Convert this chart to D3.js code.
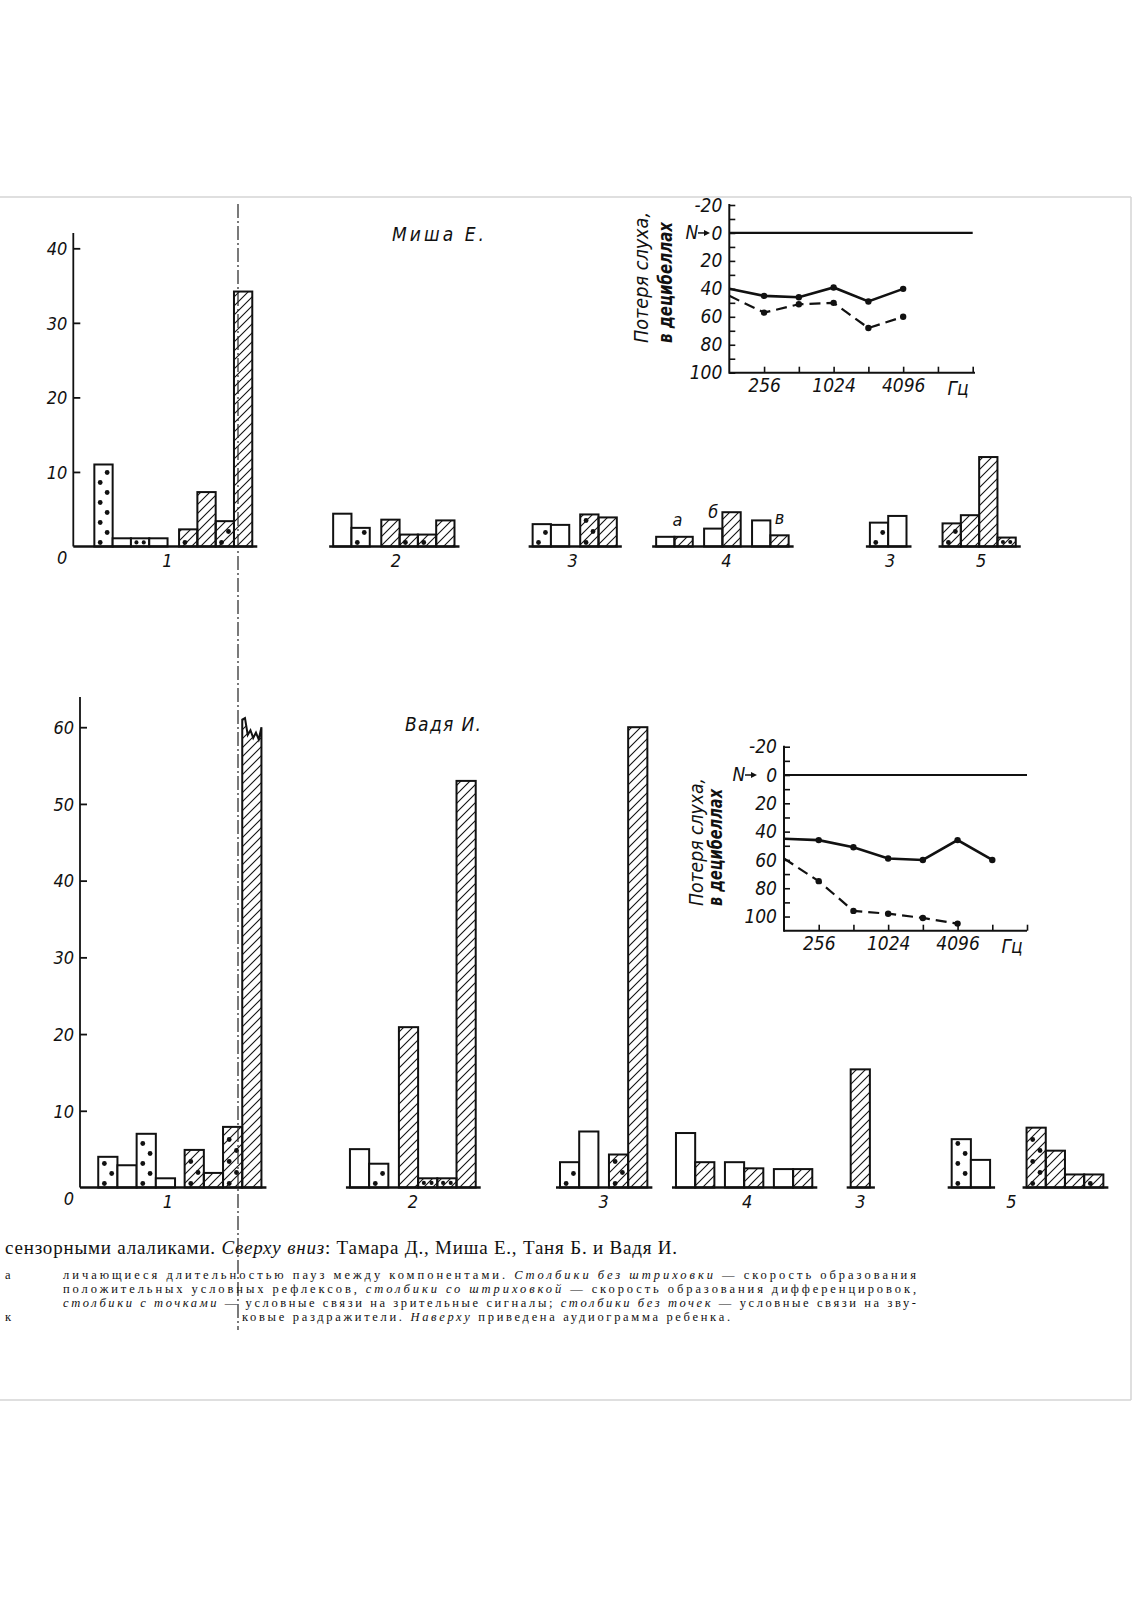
<!DOCTYPE html>
<html><head><meta charset="utf-8">
<script src="https://cdn.jsdelivr.net/npm/d3@7"></script>
<style>
body{margin:0;background:#fff}
svg{display:block}
.tf{font-family:"DejaVu Sans Condensed","Liberation Sans Narrow","DejaVu Sans",sans-serif;font-stretch:condensed;font-style:oblique;fill:#111}
.cap{font-family:"Liberation Serif","DejaVu Serif",serif;fill:#111}
</style>
</head><body>
<svg id="c" width="1132" height="1600"></svg>
<script>
// ================= DATA =================
const groupLabels = ["1","2","3","4","3","5"];

// Миша Е. — bar values by group / subgroup
const mishaValues = [
  [[11,1.1,1.1,1.1],[2.3,7.3,3.4,34.2]],
  [[4.4,2.5],[3.6,1.6,1.6,3.5]],
  [[3.0,2.9],[4.3,3.9]],
  [[1.3,1.3],[2.4,4.6],[3.5,1.5]],
  [[3.2,4.1]],
  [[3.1,4.2,12.0,1.2]]
];
const mishaKinds = [
  [["dot","open","dot","open"],["hatchdot","hatch","hatchdot","hatch"]],
  [["open","dot"],["hatch","hatchdot","hatchdot","hatch"]],
  [["dot","open"],["hatchdot","hatch"]],
  [["open","hatch"],["open","hatch"],["open","hatch"]],
  [["dot","open"]],
  [["hatchdot","hatch","hatch","hatchdot"]]
];
const mishaSubLetters = ["а","б","в"];
const mishaYTicks = [0,10,20,30,40];

// Вадя И.
const vadyaValues = [
  [[4.0,2.9,7.0,1.2],[4.9,1.9,7.9,60]],
  [[5.0,3.1],[20.9,1.2,1.2,53.0]],
  [[3.3,7.3],[4.3,60.0]],
  [[7.1,3.3],[3.3,2.5],[2.4,2.4]],
  [[15.4]],
  [[6.3,3.6],[7.8,4.8,1.7,1.7]]
];
const vadyaKinds = [
  [["dot","open","dot","open"],["hatchdot","hatch","hatchdot","hatch"]],
  [["open","dot"],["hatch","hatchdot","hatchdot","hatch"]],
  [["dot","open"],["hatchdot","hatch"]],
  [["open","hatch"],["open","hatch"],["open","hatch"]],
  [["hatch"]],
  [["dot","open"],["hatchdot","hatch","hatch","hatchdot"]]
];
const vadyaBrokenTop = [61,61.2,59.0,59.6,58.6,59.3,58.4,60]; // torn top of off-scale bar
const vadyaYTicks = [0,10,20,30,40,50,60];

// Audiograms (loss in dB)
const audioFreqTicks = [256,512,1024,2048,4096,8192,16384];
const audioFreqLabels = [256,1024,4096];
const audioDbLabels = [-20,0,20,40,60,80,100];
const mishaFreqs = [128,256,512,1024,2048,4096];
const mishaSolid = [40,45,46,39,49,40];
const mishaDashed = [45,57,51,50,68,60];
const vadyaSolidFreqs = [128,256,512,1024,2048,4096,8192];
const vadyaSolid = [45,46,51,59,60,46,60];
const vadyaDashedFreqs = [128,256,512,1024,2048,4096];
const vadyaDashed = [59,75,96,98,101,105];

// ================= LAYOUT =================
const svg = d3.select("#c");
const defs = svg.append("defs");
const hp = defs.append("pattern").attr("id","hatch").attr("patternUnits","userSpaceOnUse")
  .attr("width",9).attr("height",9);
hp.append("path").attr("d","M-1,1 l2,-2 M0,9 l9,-9 M8,10 l2,-2")
  .attr("stroke","#111").attr("stroke-width",1.1);

// page frame
svg.append("line").attr("x1",0).attr("x2",1131).attr("y1",197).attr("y2",197).attr("stroke","#d4d4d4").attr("stroke-width",1.5);
svg.append("line").attr("x1",0).attr("x2",1131).attr("y1",1400).attr("y2",1400).attr("stroke","#d4d4d4").attr("stroke-width",1.5);
svg.append("line").attr("x1",1131).attr("x2",1131).attr("y1",197).attr("y2",1400).attr("stroke","#d4d4d4").attr("stroke-width",1.5);

const layouts = {
  misha:{x0:73.3, slot:18.3, starts:[1.15,14.2,25.1,31.85,43.53,47.5], subGap:[0.63,0.63,0.6,0.62,0.6,0.6],
         y0:546.5, yv:40, yp:248.3, axisTop:233, labelY:567, labelDx:[-6,2,-2,4,2,2]},
  vadya:{x0:80, slot:19.2, starts:[0.95,14.06,25,31.04,40.14,45.4], subGap:[0.5,0.55,0.55,0.55,0.55,1.9],
         y0:1187.5, yv:60, yp:727.2, axisTop:697, labelY:1208, labelDx:[-12,0,0,3,0,-16]}
};

function dots(g, x0, w, yTop, yBot, r, step) {
  const h = yBot - yTop;
  if (h < 10) {
    [0.3,0.7].forEach(f => g.append("circle").attr("cx",x0+w*f).attr("cy",(yTop+yBot)/2).attr("r",r*0.85).attr("fill","#111"));
    return;
  }
  let i = 0;
  for (let yy = yBot - 4; yy > yTop + 3; yy -= step, i++) {
    g.append("circle").attr("cx", x0 + w*(i%2===0?0.32:0.7)).attr("cy", yy).attr("r", r).attr("fill","#111");
  }
}

function drawPanel(values, kinds, lay, yTicks, broken) {
  const x = d3.scaleLinear().domain([0,1]).range([lay.x0, lay.x0+lay.slot]);
  const y = d3.scaleLinear().domain([0,lay.yv]).range([lay.y0, lay.yp]);
  const g = svg.append("g");
  g.append("line").attr("x1",lay.x0).attr("x2",lay.x0).attr("y1",lay.axisTop).attr("y2",lay.y0)
    .attr("stroke","#111").attr("stroke-width",1.8);
  const ax = g.append("g").attr("transform",`translate(${lay.x0},0)`)
    .call(d3.axisLeft(y).tickValues(yTicks).tickSizeInner(-7).tickSizeOuter(0).tickPadding(6));
  ax.select(".domain").remove();
  ax.selectAll(".tick line").attr("stroke","#111").attr("stroke-width",1.8).filter(d=>d===0).remove();
  ax.selectAll(".tick text").attr("class","tf").attr("font-size",18).attr("fill","#111")
    .attr("dy", d => d===0 ? "0.95em" : "0.35em");

  values.forEach((grp, gi) => {
    let slot = lay.starts[gi];
    const gStart = slot;
    const subRanges = [];
    grp.forEach((sub, si) => {
      if (si > 0) slot += lay.subGap[gi];
      const s0 = slot;
      sub.forEach((v, bi) => {
        const kind = kinds[gi][si][bi];
        const xl = x(slot), w = x(slot+1) - x(slot);
        const yt = y(v);
        const bg = g.append("g");
        const isBroken = broken && gi===0 && si===1 && bi===sub.length-1;
        let shape;
        if (isBroken) {
          const pts = broken.map((bv,k) => [xl + w*k/(broken.length-1), y(bv)]);
          const d = `M${xl},${y(0)} L` + pts.map(p=>p.join(",")).join(" L") + ` L${xl+w},${y(0)} Z`;
          shape = bg.append("path").attr("d", d);
        } else {
          shape = bg.append("rect").attr("x",xl).attr("y",yt).attr("width",w).attr("height",y(0)-yt);
        }
        shape.attr("fill", kind.startsWith("hatch") ? "url(#hatch)" : "#fff")
             .attr("stroke","#111").attr("stroke-width",2).attr("stroke-linejoin","miter");
        if (kind.includes("dot")) dots(bg, xl, w, yt, y(0), 2.4, kind==="dot" ? 10 : 11);
        slot += 1;
      });
      subRanges.push([s0, slot]);
    });
    const bigGap = lay.subGap[gi] > 1;
    const ranges = bigGap ? subRanges : [[gStart, slot]];
    ranges.forEach((r, ri) => {
      const xa = (gi===0 && ri===0) ? lay.x0 : x(r[0]) - 4;
      g.append("line").attr("x1", xa).attr("x2", x(r[1]) + 5).attr("y1", y(0)).attr("y2", y(0))
        .attr("stroke","#111").attr("stroke-width",2.4);
    });
    g.append("text").attr("class","tf").attr("font-size",18).attr("text-anchor","middle")
      .attr("x", (x(gStart)+x(slot))/2 + lay.labelDx[gi]).attr("y", lay.labelY).text(groupLabels[gi]);
    lay["_sub"+gi] = {x, y, subRanges};
  });
  return {x, y};
}

drawPanel(mishaValues, mishaKinds, layouts.misha, mishaYTicks, null);
drawPanel(vadyaValues, vadyaKinds, layouts.vadya, vadyaYTicks, vadyaBrokenTop);

// letters а б в over group 4 (Миша)
(function(){
  const info = layouts.misha._sub3;
  const anchors = [[0,null],[1,0],[2,1]];
  anchors.forEach((a, i) => {
    const [s0] = info.subRanges[a[0]];
    const vals = mishaValues[3][a[0]];
    let cx, top;
    if (a[1] === null) { cx = (info.x(s0)+info.x(s0+vals.length))/2; top = info.y(d3.max(vals)); }
    else { cx = (info.x(s0+a[1])+info.x(s0+a[1]+1))/2; top = info.y(vals[a[1]]); }
    svg.append("text").attr("class","tf").attr("font-size",18).attr("text-anchor","middle")
      .attr("x", cx + (i===0?3:0)).attr("y", top - 11).text(mishaSubLetters[i]);
  });
})();

// titles
svg.append("text").attr("class","tf").attr("font-size",19).attr("x",392).attr("y",241)
  .attr("textLength",92).attr("lengthAdjust","spacing").text("Миша Е.");
svg.append("text").attr("class","tf").attr("font-size",19).attr("x",405).attr("y",731)
  .attr("textLength",76).attr("lengthAdjust","spacing").text("Вадя И.");

// ================= AUDIOGRAMS =================
function drawAudio(o) {
  const x = d3.scaleLog().base(2).domain([128,16384]).range([o.x0,o.x1]);
  const y = d3.scaleLinear().domain([-20,o.dbMax]).range([o.yTop,o.yBot]);
  const g = svg.append("g");
  g.append("line").attr("x1",o.x0).attr("x2",o.x0).attr("y1",o.yTop-1).attr("y2",o.yBot+1)
    .attr("stroke","#111").attr("stroke-width",2);
  const ya = g.append("g").attr("transform",`translate(${o.x0},0)`)
    .call(d3.axisLeft(y).tickValues(d3.range(-20, Math.min(o.dbMax,100)+1, 10)).tickSizeInner(-6).tickSizeOuter(0).tickPadding(7)
      .tickFormat(d => audioDbLabels.includes(d) ? (d<0 ? "-"+Math.abs(d) : String(d)) : ""));
  ya.select(".domain").remove();
  ya.selectAll(".tick line").attr("stroke","#111").attr("stroke-width",1.6);
  ya.selectAll(".tick text").attr("class","tf").attr("font-size",19).attr("fill","#111");
  g.append("line").attr("x1",o.x0).attr("x2",o.xEnd).attr("y1",o.yBot).attr("y2",o.yBot)
    .attr("stroke","#111").attr("stroke-width",2);
  const xa = g.append("g").attr("transform",`translate(0,${o.yBot})`)
    .call(d3.axisBottom(x).tickValues(audioFreqTicks).tickSizeInner(-6).tickSizeOuter(0).tickPadding(6)
      .tickFormat(d => audioFreqLabels.includes(d) ? String(d) : ""));
  xa.select(".domain").remove();
  xa.selectAll(".tick line").attr("stroke","#111").attr("stroke-width",1.6);
  xa.selectAll(".tick text").attr("class","tf").attr("font-size",19).attr("fill","#111");
  g.append("text").attr("class","tf").attr("font-size",19).attr("text-anchor","middle")
    .attr("x",o.hzX).attr("y",o.yBot+22).text("Гц");
  g.append("line").attr("x1",o.x0).attr("x2",x(16384)).attr("y1",y(0)).attr("y2",y(0))
    .attr("stroke","#111").attr("stroke-width",2.2);
  g.append("text").attr("class","tf").attr("font-size",19).attr("text-anchor","middle")
    .attr("x",o.nX).attr("y",y(0)+6).text("N");
  g.append("line").attr("x1",o.nX+6).attr("x2",o.nX+14).attr("y1",y(0)).attr("y2",y(0)).attr("stroke","#111").attr("stroke-width",1.5);
  g.append("path").attr("d",`M${o.nX+18},${y(0)} l-6,-3 l0,6 z`).attr("fill","#111");
  const line = d3.line().x(d=>x(d[0])).y(d=>y(d[1]));
  [[o.solidF,o.solid,null,2.6],[o.dashF,o.dash,"11,6",2.2]].forEach(([f,v,da,sw]) => {
    const pts = f.map((fr,i)=>[fr,v[i]]);
    g.append("path").attr("d",line(pts)).attr("fill","none").attr("stroke","#111")
      .attr("stroke-width",sw).attr("stroke-dasharray",da);
    g.selectAll(null).data(pts.slice(1)).enter().append("circle")
      .attr("cx",d=>x(d[0])).attr("cy",d=>y(d[1])).attr("r",3.2).attr("fill","#111");
  });
  g.append("text").attr("class","tf").attr("font-size",19)
    .attr("transform",`translate(${o.l1x},${o.lBot}) rotate(-90)`).attr("textLength",o.l1len).attr("lengthAdjust","spacingAndGlyphs")
    .text("Потеря слуха,");
  g.append("text").attr("class","tf").attr("font-size",19).attr("font-weight","bold")
    .attr("transform",`translate(${o.l2x},${o.lBot}) rotate(-90)`).attr("textLength",o.l2len).attr("lengthAdjust","spacingAndGlyphs")
    .text("в децибеллах");
}

drawAudio({x0:729.3, x1:972.7, xEnd:975, yTop:205, yBot:372.7, dbMax:100, hzX:958, nX:692,
  solidF:mishaFreqs, solid:mishaSolid, dashF:mishaFreqs, dash:mishaDashed,
  l1x:648, l2x:672, lBot:343, l1len:131, l2len:121});
drawAudio({x0:784, x1:1027, xEnd:1027, yTop:746.7, yBot:930.7, dbMax:110, hzX:1012, nX:739,
  solidF:vadyaSolidFreqs, solid:vadyaSolid, dashF:vadyaDashedFreqs, dash:vadyaDashed,
  l1x:703, l2x:722, lBot:906, l1len:128, l2len:117});

// ================= CAPTION =================
function capLine(x, yb, len, size, parts) {
  const t = svg.append("text").attr("class","cap").attr("x",x).attr("y",yb).attr("font-size",size)
    .attr("xml:space","preserve");
  if (len) t.attr("textLength",len).attr("lengthAdjust","spacing");
  parts.forEach(p => {
    const s = t.append("tspan").text(p[0]);
    if (p[1]) s.attr("font-style","italic");
  });
}
capLine(5, 1254, 672, 19, [["сензорными алаликами. "],["Сверху вниз",1],[": Тамара Д., Миша Е., Таня Б. и Вадя И."]]);
capLine(63, 1278.5, 853, 12.5, [["личающиеся длительностью пауз между компонентами. "],["Столбики без штриховки",1],[" — скорость образования"]]);
capLine(63, 1292.7, 853, 12.5, [["положительных условных рефлексов, "],["столбики со штриховкой",1],[" — скорость образования дифференцировок,"]]);
capLine(63, 1306.9, 853, 12.5, [["столбики с точками",1],[" — условные связи на зрительные сигналы; "],["столбики без точек",1],[" — условные связи на зву-"]]);
capLine(242, 1321.1, 488, 12.5, [["ковые раздражители. "],["Наверху",1],[" приведена аудиограмма ребенка."]]);
capLine(5, 1278.5, null, 12.5, [["а"]]);
capLine(5, 1321.1, null, 12.5, [["к"]]);

// fold line (scan artifact)
svg.append("line").attr("x1",238).attr("x2",238).attr("y1",204).attr("y2",1330)
  .attr("stroke","#222").attr("stroke-width",1.2).attr("stroke-dasharray","14,3,2,3");
</script>
</body></html>
